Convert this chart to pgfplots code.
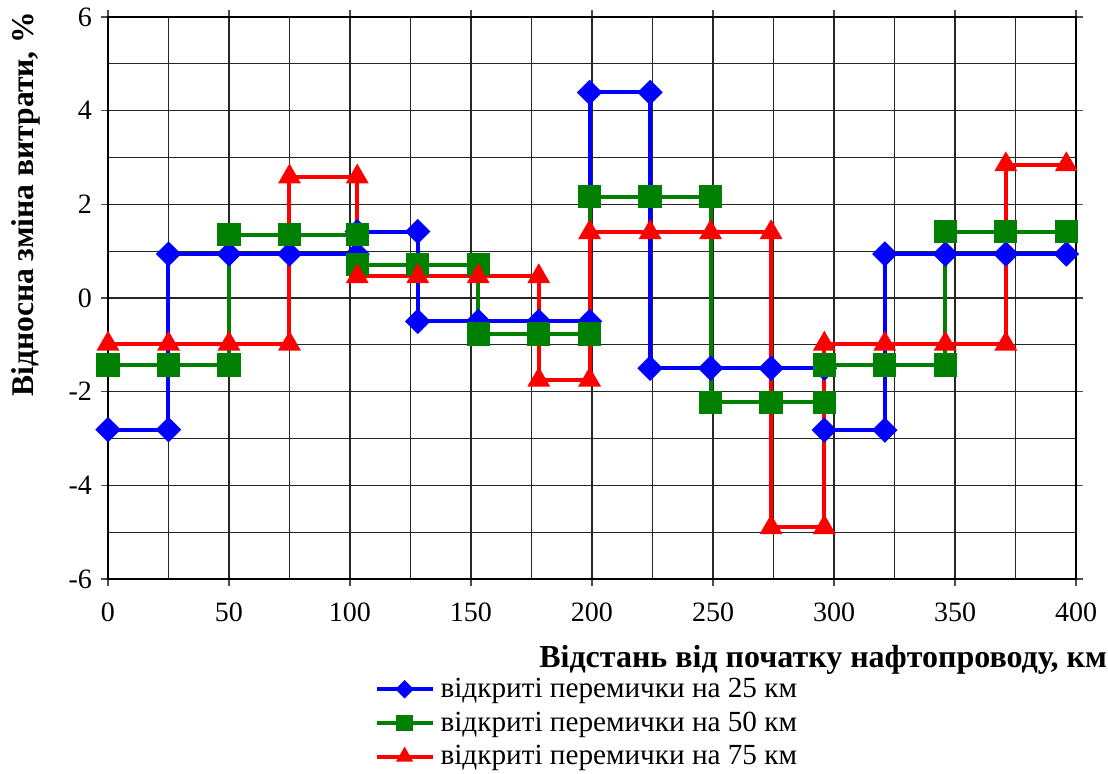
\documentclass[border=0pt]{standalone}
\usepackage{pgfplots}
\pgfplotsset{compat=1.18}
\usepackage{fontspec}
\setmainfont{Liberation Serif}
\definecolor{cblue}{RGB}{0,0,255}
\definecolor{cgreen}{RGB}{0,128,0}
\definecolor{cred}{RGB}{255,0,0}
\begin{document}
\begin{tikzpicture}
\path[use as bounding box] (-54pt,-97pt) rectangle (500pt,289.5pt);
\begin{axis}[
  at={(0,0)}, anchor=south west,
  scale only axis, width=484pt, height=281pt,
  xmin=0, xmax=400, ymin=-6, ymax=6,
  xtick={0,50,...,400}, ytick={-6,-4,...,6},
  xticklabels={0,50,100,150,200,250,300,350,400},
  yticklabels={-6,-4,-2,0,2,4,6},
  minor xtick={25,75,...,375}, minor ytick={-5,-3,...,5},
  grid=both,
  major grid style={black!85, line width=0.6pt},
  minor grid style={black!85, line width=0.6pt},
  axis line style={black, line width=1.3pt},
  tick align=outside, major tick length=3.5pt, minor tick length=0pt,
  tick style={black!70, line width=0.7pt},
  ticklabel style={font=\rmfamily\fontsize{14}{16}\selectfont},
  xticklabel style={yshift=-5pt},
  yticklabel style={xshift=-1pt},
  xlabel={\textbf{Відстань від початку нафтопроводу, км}},
  xlabel style={font=\fontsize{16}{18}\selectfont, at={(rel axis cs:1,0)}, anchor=east, yshift=-40.5pt, xshift=19pt},
  ylabel={\textbf{Відносна зміна витрати, \%}},
  ylabel style={font=\fontsize{15.8}{18}\selectfont, at={(axis description cs:-0.085,1.022)}, anchor=east, rotate=0},
  legend style={at={(axis description cs:0.275,-0.1685)}, anchor=north west, draw=none, fill=none,
    font=\fontsize{14.6}{16}\selectfont, row sep=1.65pt, inner xsep=0pt, inner ysep=0pt,
    /tikz/every odd column/.append style={column sep=1pt}},
  legend cell align=left,
  legend image code/.code={\draw[mark repeat=2,mark phase=2, /tikz/every mark/.append style={scale=0.65}] plot coordinates {(0pt,0pt) (14pt,0pt) (28pt,0pt)};},
  every axis plot/.append style={line width=2pt},
]
\addplot[cblue, mark=square*, mark size=3.5pt, mark options={rotate=45, draw=none, fill=cblue}] coordinates {
(0,-2.81) (25,-2.81) (25,0.94) (50,0.94) (75,0.94) (103,0.94) (103,1.42) (128,1.42) (128,-0.50)
(153,-0.50) (178,-0.50) (199,-0.50) (199,4.39) (224,4.39) (224,-1.50) (249,-1.50) (274,-1.50)
(296,-1.50) (296,-2.82) (321,-2.82) (321,0.94) (346,0.94) (371,0.94) (396,0.94)};
\addlegendentry{відкриті перемички на 25 км}
\addplot[cgreen, mark=square*, mark size=4.8pt, mark options={draw=none, fill=cgreen}] coordinates {
(0,-1.43) (25,-1.43) (50,-1.43) (50,1.35) (75,1.35) (103,1.35) (103,0.71) (128,0.71) (153,0.71)
(153,-0.77) (178,-0.77) (199,-0.77) (199,2.16) (224,2.16) (249,2.16) (249,-2.23) (274,-2.23)
(296,-2.23) (296,-1.43) (321,-1.43) (346,-1.43) (346,1.42) (371,1.42) (396,1.42)};
\addlegendentry{відкриті перемички на 50 км}
\addplot[cred, mark=triangle*, mark size=4.6pt, mark options={draw=none, fill=cred}] coordinates {
(0,-0.98) (25,-0.98) (50,-0.98) (75,-0.98) (75,2.59) (103,2.59) (103,0.46) (128,0.46) (153,0.46)
(178,0.46) (178,-1.75) (199,-1.75) (199,1.40) (224,1.40) (249,1.40) (274,1.40) (274,-4.90)
(296,-4.90) (296,-0.98) (321,-0.98) (346,-0.98) (371,-0.98) (371,2.85) (396,2.85)};
\addlegendentry{відкриті перемички на 75 км}
\end{axis}
\end{tikzpicture}
\end{document}
